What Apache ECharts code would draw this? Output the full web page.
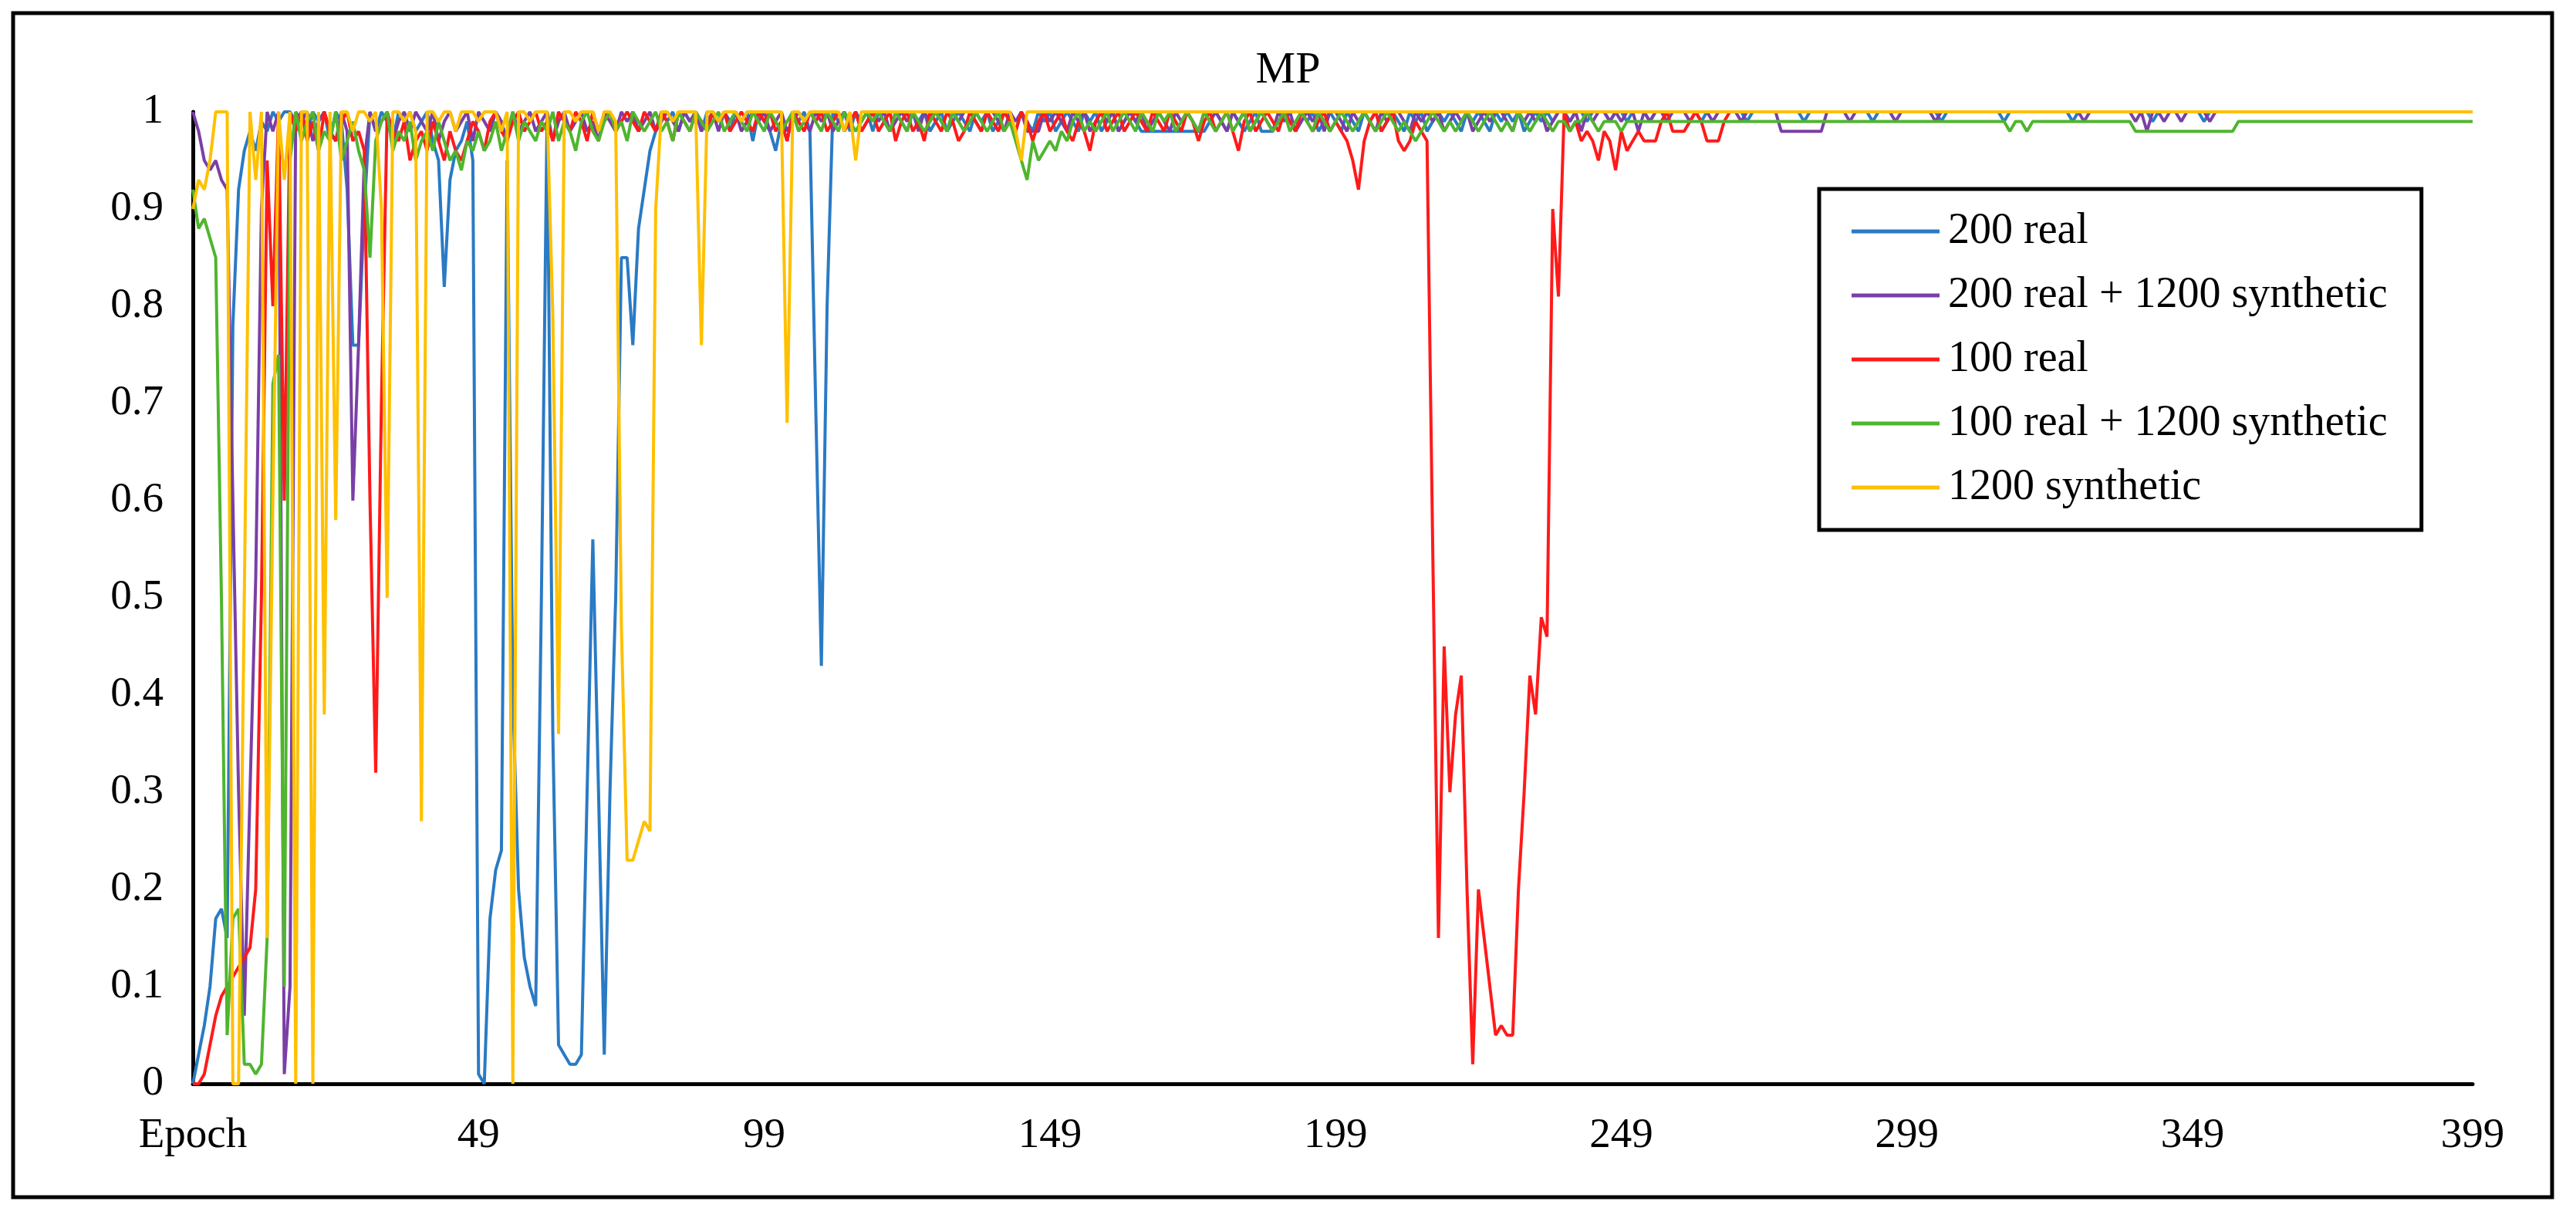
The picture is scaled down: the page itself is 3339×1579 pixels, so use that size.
<!DOCTYPE html>
<html>
<head>
<meta charset="utf-8">
<script src="https://cdn.jsdelivr.net/npm/echarts@6/dist/echarts.min.js"></script>
<style>html,body{margin:0;padding:0;background:#fff}#chart{width:3339px;height:1579px}</style>
</head>
<body>
<div id="chart"></div>
<script>
// MP per epoch
const seriesNames = ['200 real', '200 real + 1200 synthetic', '100 real', '100 real + 1200 synthetic', '1200 synthetic'];
const xTickLabels = ['Epoch', '49', '99', '149', '199', '249', '299', '349', '399'];

const real200 = [
  0,0.03,0.06,0.1,0.17,0.18,0.15,0.78,0.92,0.96,0.98,0.96,0.99,0.98,1,0.99,1,1,0.99,1,
  0.98,1,0.99,1,0.97,1,0.99,0.92,0.76,0.76,0.9,1,0.98,1,0.99,0.97,1,0.99,1,0.98,
  0.99,1,0.97,0.95,0.82,0.93,0.96,0.97,0.99,0.95,0.01,0,0.17,0.22,0.24,0.95,0.4,0.2,0.13,0.1,
  0.08,0.5,1,0.36,0.04,0.03,0.02,0.02,0.03,0.3,0.56,0.3,0.03,0.3,0.5,0.85,0.85,0.76,0.88,0.92,
  0.96,0.98,1,0.99,1,0.98,1,0.99,1,0.98,1,1,0.99,1,0.98,1,0.99,1,0.97,1,
  0.99,0.98,0.96,0.99,0.97,1,0.99,1,0.98,0.7,0.43,0.8,1,0.99,1,0.98,1,0.99,1,0.98,
  1,0.99,0.98,1,0.99,0.98,1,0.99,1,0.98,0.99,1,0.98,0.99,1,0.99,0.98,1,0.99,1,
  0.98,0.99,1,0.99,0.98,1,0.99,0.98,1,0.99,1,0.98,0.99,1,0.99,0.98,1,0.99,1,0.98,
  0.99,1,0.98,0.99,1,0.99,0.98,0.98,0.98,0.98,0.98,0.98,0.98,0.98,0.98,0.98,0.98,0.98,0.99,1,
  0.99,0.98,1,0.99,0.98,0.99,1,0.98,0.98,0.98,0.99,1,0.99,0.98,1,0.99,1,0.98,0.99,1,
  0.99,0.98,1,0.99,0.98,1,0.99,1,0.98,0.99,1,0.99,0.98,1,0.99,1,0.98,0.99,1,0.99,
  1,0.99,0.98,1,0.99,1,0.99,0.98,1,0.99,1,0.99,1,0.98,0.99,1,0.99,1,0.99,1,
  1,0.99,1,1,0.99,1,1,1,0.99,1,1,0.99,1,1,1,0.99,1,1,1,1,
  1,1,1,1,0.99,1,1,1,1,1,1,1,0.99,1,1,1,1,1,1,1,
  1,1,0.99,1,1,1,1,1,1,1,1,1,1,1,0.99,1,1,1,1,1,
  1,1,1,1,1,1,0.99,1,1,1,1,1,1,1,1,1,1,0.99,1,1,
  1,1,1,1,1,1,1,1,1,0.99,1,1,1,1,1,1,1,1,1,1,
  1,1,1,0.99,1,1,1,1,1,1,1,1,0.99,1,1,1,1,1,1,1,
  1,1,1,1,1,1,1,1,1,1,1,1,1,1,1,1,1,1,1,1,
  1,1,1,1,1,1,1,1,1,1,1,1,1,1,1,1,1,1,1,1
];
const real200Syn = [
  1,0.98,0.95,0.94,0.95,0.93,0.92,0.6,0.3,0.07,0.3,0.52,0.9,1,0.98,1,0.01,0.1,1,0.99,
  1,0.97,0.99,1,0.98,0.97,1,0.98,0.6,0.76,0.95,1,0.98,0.99,1,0.97,0.99,1,0.98,1,
  0.99,0.98,1,0.97,0.99,1,0.98,0.99,1,0.97,1,0.99,0.98,1,0.99,0.97,1,0.98,0.99,1,
  0.98,0.99,1,0.97,0.99,1,0.98,0.99,1,0.98,0.99,0.97,1,0.99,0.98,1,0.99,1,0.98,0.99,
  1,0.98,0.99,1,0.99,0.98,1,0.99,1,0.98,0.99,1,0.98,1,0.99,1,0.98,0.99,1,0.99,
  1,0.98,0.99,1,0.98,0.99,1,0.99,0.98,1,0.99,1,0.98,0.99,1,0.99,1,0.98,0.99,1,
  0.99,1,0.98,0.99,1,0.99,1,0.98,1,0.99,1,0.99,0.98,1,0.99,1,1,0.99,0.98,1,
  1,0.99,0.98,1,0.99,1,0.98,0.98,0.98,1,0.99,1,0.99,0.98,1,0.99,1,0.98,0.99,1,
  0.99,1,0.98,0.99,1,0.99,1,0.98,0.99,1,0.99,0.98,1,0.99,1,0.99,0.98,1,0.99,1,
  0.99,0.98,1,0.99,1,0.98,0.99,1,0.99,0.98,1,0.99,1,0.98,0.99,1,0.99,1,0.98,1,
  1,0.99,0.98,1,0.99,1,0.99,0.98,1,0.99,1,1,0.99,0.98,1,0.99,1,0.99,1,0.98,
  0.99,1,0.99,1,0.98,0.99,1,0.99,1,1,0.99,0.98,1,0.99,1,0.99,1,0.98,0.99,1,
  1,0.99,1,0.98,1,0.99,1,1,0.99,1,0.99,1,1,0.98,1,0.99,1,1,0.99,1,
  1,1,0.99,1,1,1,0.99,1,1,1,1,0.99,1,1,1,1,1,1,0.98,0.98,
  0.98,0.98,0.98,0.98,0.98,0.98,1,1,1,1,0.99,1,1,1,1,1,1,1,0.99,1,
  1,1,1,1,1,0.99,1,1,1,1,1,1,1,1,1,1,1,1,1,1,
  1,1,1,1,1,1,1,1,1,1,1,0.99,1,1,1,1,1,1,1,1,
  0.99,1,0.98,1,1,0.99,1,1,0.99,1,1,1,1,0.99,1,1,1,1,1,1,
  1,1,1,1,1,1,1,1,1,1,1,1,1,1,1,1,1,1,1,1,
  1,1,1,1,1,1,1,1,1,1,1,1,1,1,1,1,1,1,1,1
];
const real100 = [
  0,0,0.01,0.04,0.07,0.09,0.1,0.11,0.12,0.13,0.14,0.2,0.5,0.95,0.8,1,0.6,1,0.98,1,
  0.97,0.99,0.96,1,0.98,0.97,0.99,1,0.97,0.98,0.96,0.6,0.32,0.7,1,0.98,0.97,0.99,0.95,0.97,
  0.98,0.96,0.99,0.97,0.95,0.98,0.96,0.95,0.97,0.99,0.98,0.96,0.99,1,0.98,0.97,0.99,1,0.98,0.99,
  1,0.98,0.99,0.97,1,0.99,0.98,1,0.99,0.97,1,0.98,0.99,1,0.98,0.99,1,0.99,0.98,1,
  0.99,0.98,1,0.99,0.97,1,0.99,0.98,1,0.99,0.98,1,0.99,1,0.98,0.99,1,0.99,0.98,1,
  0.99,1,0.98,0.99,0.97,1,0.99,0.98,1,0.99,1,0.98,0.99,1,0.98,0.99,1,0.98,0.99,1,
  0.98,0.99,1,0.97,0.99,1,0.98,0.99,0.97,1,0.99,0.98,1,0.99,0.97,0.98,1,0.99,0.98,1,
  0.99,0.98,1,0.99,0.98,1,0.99,0.97,0.99,1,0.98,0.99,1,0.98,0.97,0.99,0.98,0.96,0.99,1,
  0.98,0.99,1,0.98,0.99,1,0.99,0.98,1,0.99,0.98,1,0.99,0.98,1,0.99,0.97,0.99,1,0.98,
  0.99,1,0.98,0.96,0.99,1,0.98,0.99,1,0.99,0.98,1,0.99,0.98,1,0.99,0.98,0.99,1,0.98,
  0.99,0.98,0.97,0.95,0.92,0.97,0.99,1,0.98,0.99,1,0.97,0.96,0.97,0.99,0.98,0.97,0.55,0.15,0.45,
  0.3,0.38,0.42,0.2,0.02,0.2,0.15,0.1,0.05,0.06,0.05,0.05,0.2,0.3,0.42,0.38,0.48,0.46,0.9,0.81,
  1,0.98,0.99,0.97,0.98,0.97,0.95,0.98,0.97,0.94,0.98,0.96,0.97,0.98,0.97,0.97,0.97,0.99,1,0.98,
  0.98,0.98,0.99,1,0.99,0.97,0.97,0.97,0.99,1,1,1,1,1,1,1,1,1,1,1,
  1,1,1,1,1,1,1,1,1,1,1,1,1,1,1,1,1,1,1,1,
  1,1,1,1,1,1,1,1,1,1,1,1,1,1,1,1,1,1,1,1,
  1,1,1,1,1,1,1,1,1,1,1,1,1,1,1,1,1,1,1,1,
  1,1,1,1,1,1,1,1,1,1,1,1,1,1,1,1,1,1,1,1,
  1,1,1,1,1,1,1,1,1,1,1,1,1,1,1,1,1,1,1,1,
  1,1,1,1,1,1,1,1,1,1,1,1,1,1,1,1,1,1,1,1
];
const real100Syn = [
  0.92,0.88,0.89,0.87,0.85,0.5,0.05,0.17,0.18,0.02,0.02,0.01,0.02,0.15,0.72,0.75,0.1,0.95,1,0.97,
  0.99,1,0.96,0.98,0.97,1,0.95,0.97,0.99,0.96,0.94,0.85,0.97,0.99,1,0.96,0.98,0.97,0.99,0.95,
  0.97,0.98,0.96,0.99,0.97,0.95,0.96,0.94,0.97,0.96,0.98,0.96,0.97,0.99,0.96,0.98,1,0.97,0.99,0.98,
  0.97,0.99,0.98,1,0.97,0.99,0.98,0.96,0.99,1,0.98,0.97,0.99,1,0.98,0.99,0.97,1,0.99,0.98,
  0.99,1,0.98,0.99,0.97,1,0.99,0.98,1,0.99,0.98,0.99,1,0.98,0.99,1,0.99,0.98,1,0.99,
  0.98,1,0.99,0.98,0.99,1,0.98,0.99,1,0.99,0.98,1,0.99,0.98,1,0.99,0.98,0.99,1,0.99,
  1,0.99,0.98,1,0.99,0.98,1,0.99,0.98,0.99,1,0.99,0.98,1,0.99,0.98,0.99,1,0.99,0.98,
  0.99,1,0.98,0.99,0.97,0.95,0.93,0.97,0.95,0.96,0.97,0.96,0.98,0.97,0.99,1,0.98,0.99,0.98,0.99,
  1,0.98,0.99,1,0.99,0.98,1,0.99,0.98,1,0.99,1,0.98,0.99,1,0.99,0.98,1,0.99,0.98,
  0.99,1,0.98,0.99,1,0.98,0.99,1,0.99,0.98,0.99,1,0.98,0.99,1,0.99,0.98,1,0.99,0.98,
  0.99,1,0.99,0.98,0.99,1,0.99,0.98,0.99,1,0.99,0.98,0.99,0.98,0.97,0.98,0.99,1,0.99,0.98,
  0.99,0.98,0.99,1,0.99,0.98,0.99,1,0.99,0.98,0.99,0.98,1,0.99,0.98,0.99,1,0.99,0.98,0.99,
  0.99,0.98,0.99,0.99,1,0.99,0.98,0.99,0.99,0.99,0.98,0.99,0.99,0.99,0.99,0.99,0.99,0.99,0.99,0.99,
  0.99,0.99,0.99,0.99,0.99,0.99,0.99,0.99,0.99,0.99,0.99,0.99,0.99,0.99,0.99,0.99,0.99,0.99,0.99,0.99,
  0.99,0.99,0.99,0.99,0.99,0.99,0.99,0.99,0.99,0.99,0.99,0.99,0.99,0.99,0.99,0.99,0.99,0.99,0.99,0.99,
  0.99,0.99,0.99,0.99,0.99,0.99,0.99,0.99,0.99,0.99,0.99,0.99,0.99,0.99,0.99,0.99,0.99,0.99,0.98,0.99,
  0.99,0.98,0.99,0.99,0.99,0.99,0.99,0.99,0.99,0.99,0.99,0.99,0.99,0.99,0.99,0.99,0.99,0.99,0.99,0.99,
  0.98,0.98,0.98,0.98,0.98,0.98,0.98,0.98,0.98,0.98,0.98,0.98,0.98,0.98,0.98,0.98,0.98,0.98,0.99,0.99,
  0.99,0.99,0.99,0.99,0.99,0.99,0.99,0.99,0.99,0.99,0.99,0.99,0.99,0.99,0.99,0.99,0.99,0.99,0.99,0.99,
  0.99,0.99,0.99,0.99,0.99,0.99,0.99,0.99,0.99,0.99,0.99,0.99,0.99,0.99,0.99,0.99,0.99,0.99,0.99,0.99
];
const syn1200 = [
  0.9,0.93,0.92,0.95,1,1,1,0,0,0.5,1,0.93,1,0.15,0.6,1,0.93,1,0,1,
  1,0,1,0.38,1,0.58,1,1,0.98,1,1,0.99,1,0.9,0.5,1,1,0.99,1,0.98,
  0.27,1,1,0.99,1,1,0.98,1,1,1,0.99,1,1,1,0.98,1,0,1,1,0.99,
  1,1,1,0.79,0.36,1,1,0.99,1,1,1,0.98,1,1,0.99,0.47,0.23,0.23,0.25,0.27,
  0.26,0.9,1,1,0.99,1,1,1,1,0.76,1,1,0.99,1,1,1,0.99,1,1,1,
  1,1,1,1,0.68,1,1,0.99,1,1,1,1,1,1,0.98,1,0.95,1,1,1,
  1,1,1,1,1,1,1,1,1,1,1,1,1,1,1,1,1,1,1,1,
  1,1,1,1,0.98,0.95,1,1,1,1,1,1,1,1,1,1,1,1,1,1,
  1,1,1,1,1,1,1,1,1,1,1,1,1,1,1,1,1,1,1,1,
  1,1,1,1,1,1,1,1,1,1,1,1,1,1,1,1,1,1,1,1,
  1,1,1,1,1,1,1,1,1,1,1,1,1,1,1,1,1,1,1,1,
  1,1,1,1,1,1,1,1,1,1,1,1,1,1,1,1,1,1,1,1,
  1,1,1,1,1,1,1,1,1,1,1,1,1,1,1,1,1,1,1,1,
  1,1,1,1,1,1,1,1,1,1,1,1,1,1,1,1,1,1,1,1,
  1,1,1,1,1,1,1,1,1,1,1,1,1,1,1,1,1,1,1,1,
  1,1,1,1,1,1,1,1,1,1,1,1,1,1,1,1,1,1,1,1,
  1,1,1,1,1,1,1,1,1,1,1,1,1,1,1,1,1,1,1,1,
  1,1,1,1,1,1,1,1,1,1,1,1,1,1,1,1,1,1,1,1,
  1,1,1,1,1,1,1,1,1,1,1,1,1,1,1,1,1,1,1,1,
  1,1,1,1,1,1,1,1,1,1,1,1,1,1,1,1,1,1,1,1
];

const colors = ['#2a7ac4', '#7a3fa6', '#ff1a1a', '#4fb52e', '#ffc000'];
const allData = [real200, real200Syn, real100, real100Syn, syn1200];
const font = 'Liberation Serif';

const epochs = real200.map((v, i) => String(i));
const isTick = i => i % 50 === 0 || i === epochs.length - 1;

const chart = echarts.init(document.getElementById('chart'));
chart.setOption({
  animation: false,
  backgroundColor: '#fff',
  title: {
    text: 'MP', left: 'center', top: 58,
    textStyle: { fontFamily: font, fontSize: 58, fontWeight: 'normal', color: '#000' }
  },
  graphic: [{
    type: 'rect', shape: { x: 17, y: 17, width: 3291, height: 1535 },
    style: { fill: null, stroke: '#000', lineWidth: 5 }, silent: true
  }],
  legend: {
    data: seriesNames, orient: 'vertical', left: 2358, top: 245,
    padding: [26, 44, 26, 42], itemGap: 25, itemWidth: 114, itemHeight: 5, icon: 'rect',
    backgroundColor: '#fff', borderColor: '#000', borderWidth: 5,
    textStyle: { fontFamily: font, fontSize: 56, color: '#000', lineHeight: 58, padding: [0, 0, 0, 6] }
  },
  grid: { left: 250, right: 134, top: 145, bottom: 174 },
  xAxis: {
    type: 'category', data: epochs, boundaryGap: false,
    axisLine: { lineStyle: { color: '#000', width: 5 } },
    axisTick: { show: false },
    axisLabel: {
      interval: (i) => isTick(i), margin: 40,
      formatter: (v, i) => xTickLabels[i === epochs.length - 1 ? xTickLabels.length - 1 : i / 50],
      fontFamily: font, fontSize: 55, color: '#000'
    },
    splitLine: { show: false }
  },
  yAxis: {
    type: 'value', min: 0, max: 1, interval: 0.1,
    axisLine: { show: true, lineStyle: { color: '#000', width: 5 } },
    axisTick: { show: false },
    axisLabel: { fontFamily: font, fontSize: 55, color: '#000', margin: 38,
      formatter: v => String(+v.toFixed(1)) },
    splitLine: { show: false }
  },
  series: seriesNames.map((name, k) => ({
    name, type: 'line', data: allData[k], showSymbol: false, symbol: 'none',
    lineStyle: { color: colors[k], width: 4 }, itemStyle: { color: colors[k] }
  }))
});
</script>
</body>
</html>
